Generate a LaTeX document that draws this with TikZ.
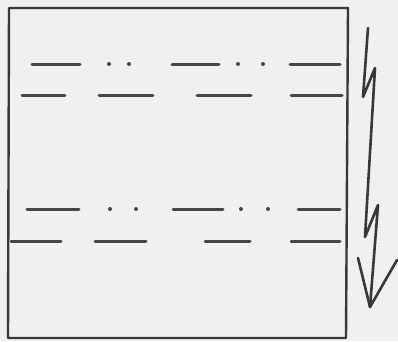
\documentclass[tikz,border=0pt]{standalone}
\begin{document}
\begin{tikzpicture}[x=1pt,y=-1pt,
  ink/.style={draw=black!78,line width=2.4pt,line cap=round,line join=round},
  dashseg/.style={draw=black!72,line width=3pt,line cap=round},
  dotmark/.style={fill=black!72}]
\fill[black!6] (0,0) rectangle (398,341);
\useasboundingbox (0,0) rectangle (398,341);
% box
\draw[ink] (9,8) -- (348,8) -- (346,338) -- (8,338) -- cycle;
% group 1
\draw[dashseg] (32,64) -- (80,64) (172,64) -- (219,64) (290,64) -- (340,64);
\fill[dotmark] (109,64) circle (2) (129,64) circle (2) (238,64) circle (2) (263,64) circle (2);
\draw[dashseg] (22,95) -- (65,95) (99,95) -- (153,95) (197,95) -- (251,95) (291,95) -- (342,95);
% group 2
\draw[dashseg] (27,209) -- (79,209) (173,209) -- (223,209) (298,209) -- (340,209);
\fill[dotmark] (110,209) circle (2) (136,209) circle (2) (241,209) circle (2) (268,209) circle (2);
\draw[dashseg] (11,241) -- (61,241) (95,241) -- (146,241) (205,241) -- (250,241) (291,241) -- (340,241);
% zigzag arrow
\draw[ink,line width=2.6pt] (368,28) -- (363,97) -- (375,68) -- (365,237) -- (378,205) -- (370,307);
\draw[ink,line width=2.6pt] (358,258) -- (370,307) -- (397,260);
\end{tikzpicture}
\end{document}
